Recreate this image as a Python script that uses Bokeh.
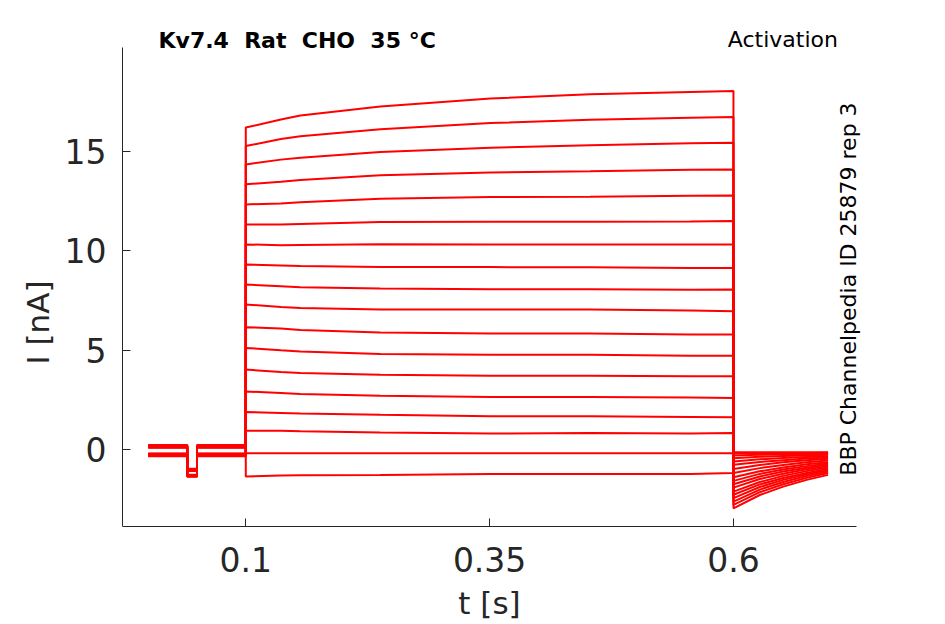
from bokeh.plotting import figure
from bokeh.models import ColumnDataSource, FixedTicker, Label, Range1d
from bokeh.embed import file_html
from bokeh.resources import INLINE
import math

# ---- data ----
# holding period with a short test dip (t in s, I in nA)
pre_t = [0.0, 0.04, 0.04, 0.05, 0.05, 0.1]
pre_base = [0.24, -0.31, 0.22, -0.28, 0.19, -0.25, 0.16, -0.22, 0.12,
            -0.19, 0.10, -0.32, 0.21, -0.27, 0.17, -0.23, 0.14, -0.20]
pre_dip = [-0.95, -1.34, -0.97, -1.31, -1.00, -1.29, -1.02, -1.27, -1.05,
           -1.25, -1.06, -1.35, -0.98, -1.30, -1.01, -1.28, -1.03, -1.26]

# activation steps, currents sampled at these times
step_t = [0.1, 0.136, 0.156, 0.238, 0.351, 0.453, 0.556, 0.6]
i_0100 = [16.19, 15.26, 14.34, 13.34, 12.33, 11.32, 10.32, 9.31, 8.30, 7.30, 6.16, 5.12, 4.03, 2.93, 1.90, 0.96, -0.17, -1.34]
i_0136 = [16.60, 15.62, 14.58, 13.47, 12.38, 11.32, 10.28, 9.26, 8.22, 7.18, 6.09, 5.00, 3.91, 2.85, 1.85, 0.96, -0.17, -1.29]
i_0156 = [16.80, 15.76, 14.68, 13.56, 12.44, 11.35, 10.29, 9.23, 8.17, 7.13, 6.02, 4.94, 3.86, 2.80, 1.82, 0.93, -0.17, -1.28]
i_0238 = [17.25, 16.10, 14.96, 13.79, 12.62, 11.44, 10.33, 9.19, 8.10, 7.05, 5.90, 4.82, 3.77, 2.72, 1.76, 0.87, -0.17, -1.26]
i_0351 = [17.65, 16.42, 15.18, 13.93, 12.70, 11.46, 10.32, 9.18, 8.07, 7.05, 5.84, 4.78, 3.72, 2.65, 1.68, 0.82, -0.17, -1.22]
i_0453 = [17.87, 16.58, 15.30, 13.99, 12.72, 11.46, 10.32, 9.17, 8.07, 7.05, 5.84, 4.77, 3.72, 2.65, 1.68, 0.84, -0.17, -1.21]
i_0556 = [17.98, 16.68, 15.40, 14.07, 12.77, 11.47, 10.32, 9.14, 8.04, 7.00, 5.79, 4.73, 3.69, 2.63, 1.65, 0.82, -0.17, -1.21]
i_0600 = [18.03, 16.72, 15.43, 14.09, 12.78, 11.49, 10.32, 9.14, 8.05, 6.96, 5.79, 4.73, 3.69, 2.60, 1.63, 0.84, -0.17, -1.17]

# tail currents after the step
tail_t = [0.6, 0.627, 0.651, 0.675, 0.697]
tail_0600 = [-2.94, -2.77, -2.60, -2.43, -2.26, -2.10, -1.90, -1.73, -1.56, -1.38, -1.17, -0.96, -0.75, -0.59, -0.42, -0.29, -0.19, -0.12]
tail_0627 = [-2.27, -2.13, -2.00, -1.87, -1.74, -1.62, -1.47, -1.34, -1.21, -1.08, -0.92, -0.76, -0.61, -0.48, -0.35, -0.25, -0.17, -0.12]
tail_0651 = [-1.85, -1.73, -1.62, -1.51, -1.42, -1.31, -1.20, -1.09, -0.99, -0.89, -0.76, -0.63, -0.52, -0.41, -0.31, -0.23, -0.16, -0.12]
tail_0675 = [-1.51, -1.41, -1.32, -1.23, -1.16, -1.07, -0.98, -0.90, -0.82, -0.73, -0.63, -0.53, -0.44, -0.36, -0.28, -0.21, -0.16, -0.12]
tail_0697 = [-1.26, -1.17, -1.09, -1.02, -0.96, -0.89, -0.82, -0.75, -0.69, -0.62, -0.54, -0.45, -0.39, -0.32, -0.25, -0.20, -0.15, -0.12]

x_ticks = [0.1, 0.35, 0.6]
x_tick_labels = ["0.1", "0.35", "0.6"]
y_ticks = [0, 5, 10, 15]
x_axis_bounds = (-0.0264, 0.7261)
y_axis_bounds = (-3.85, 20.22)

title_text = "Kv7.4\u00a0 Rat\u00a0 CHO\u00a0 35 °C"
protocol_text = "Activation"
side_text = "BBP Channelpedia ID 25879 rep 3"

# ---- build traces ----
step_cols = [i_0100, i_0136, i_0156, i_0238, i_0351, i_0453, i_0556, i_0600]
tail_cols = [tail_0600, tail_0627, tail_0651, tail_0675, tail_0697]
xs, ys = [], []
for k in range(len(i_0100)):
    b, d = pre_base[k], pre_dip[k]
    xs.append(pre_t + step_t + tail_t)
    ys.append([b, b, d, d, b, b] + [c[k] for c in step_cols] + [c[k] for c in tail_cols])
src = ColumnDataSource(dict(xs=xs, ys=ys))

AX = "#262626"
FONT = "DejaVu Sans"

p = figure(width=940, height=624, output_backend="svg", toolbar_location=None,
           x_range=Range1d(-0.0264, 0.7405), y_range=Range1d(-8.777, 21.57),
           min_border_left=122, min_border_right=70, min_border_top=20,
           min_border_bottom=0)
p.outline_line_color = None
p.grid.visible = False
p.background_fill_color = "white"
p.border_fill_color = "white"

p.multi_line("xs", "ys", source=src, line_color="#ff0000", line_width=2)

for ax in (p.xaxis[0], p.yaxis[0]):
    ax.axis_line_color = AX
    ax.axis_line_width = 1
    ax.major_tick_line_color = AX
    ax.major_tick_in = 8
    ax.major_tick_out = 0
    ax.minor_tick_line_color = None
    ax.major_label_text_font = FONT
    ax.major_label_text_font_size = "33px"
    ax.major_label_text_color = AX
    ax.axis_label_text_font = FONT
    ax.axis_label_text_font_size = "31px"
    ax.axis_label_text_color = AX
    ax.axis_label_text_font_style = "normal"

p.xaxis.bounds = x_axis_bounds
p.yaxis.bounds = y_axis_bounds
p.xaxis.fixed_location = y_axis_bounds[0]

p.xaxis.ticker = FixedTicker(ticks=x_ticks)
p.xaxis.major_label_overrides = dict(zip(x_ticks, x_tick_labels))
p.xaxis.axis_label = "t [s]"
p.xaxis.major_label_standoff = 21
p.xaxis.axis_label_standoff = 9

p.yaxis.ticker = FixedTicker(ticks=y_ticks)
p.yaxis.axis_label = "I [nA]"
p.yaxis.major_label_standoff = 16
p.yaxis.axis_label_standoff = 6

p.add_layout(Label(x=0.0105, y=20.55, text=title_text, text_font=FONT,
                   text_font_size="22px", text_font_style="bold",
                   text_color="black", text_baseline="alphabetic", text_align="left"))
p.add_layout(Label(x=0.5942, y=20.62, text=protocol_text, text_font=FONT,
                   text_font_size="22px", text_color="black",
                   text_baseline="alphabetic", text_align="left"))
p.add_layout(Label(x=0.7176, y=-1.3, text=side_text, text_font=FONT,
                   text_font_size="22px", text_color="black", angle=math.pi / 2,
                   text_baseline="alphabetic", text_align="left"))

open("out.html", "w").write(file_html(p, INLINE))
